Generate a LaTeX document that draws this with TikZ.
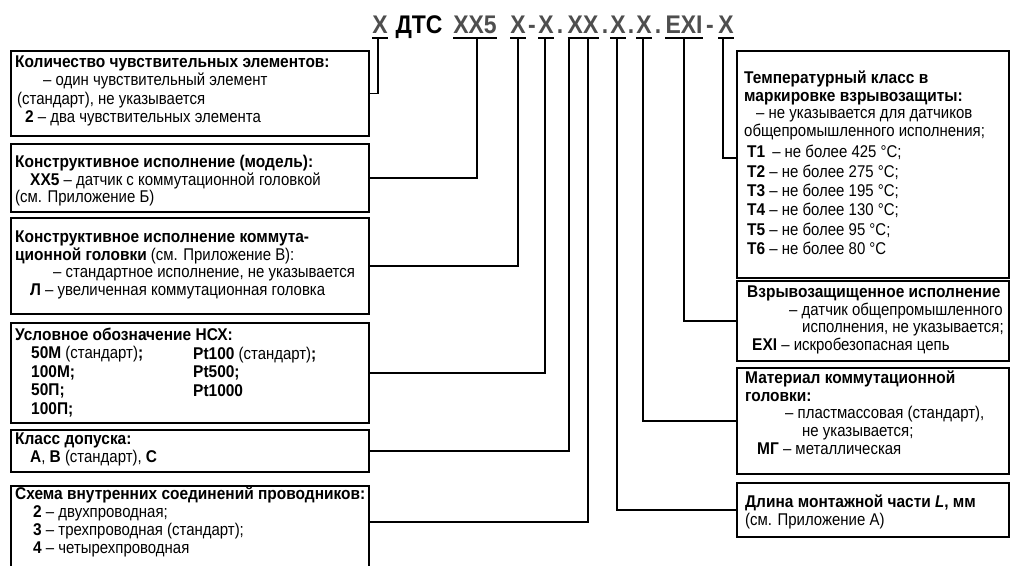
\documentclass[tikz,border=0pt]{standalone}
\usepackage{fontspec}
\setmainfont{Liberation Sans}[FakeStretch=0.88,BoldFeatures={FakeStretch=0.91}]
\newfontfamily\hdrfont{Liberation Sans}[FakeStretch=0.9]
\definecolor{codegray}{HTML}{4E4E4E}
\newcommand\mystrut{\rule{0pt}{13pt}}
\begin{document}
\begin{tikzpicture}[x=1pt,y=-1pt,
  box/.style={draw, line width=1.9pt, rectangle, inner sep=0pt, anchor=north west},
  txt/.style={anchor=north west, inner sep=0pt, align=left, font=\fontsize{17}{17.8}\selectfont},
  code/.style={anchor=base, inner sep=0pt, font=\hdrfont\fontsize{25.5}{25.5}\selectfont\bfseries, text=codegray},
  conn/.style={line width=1.9pt},
  uline/.style={line width=1.9pt}]
\useasboundingbox (0,0) rectangle (1011,565);
% ---- header code ----
\node[code] (c1) at (380,33) {X};
\node[code, text=black] (cD) at (419,33) {ДТС};
\node[code] (c2) at (475,33) {XX5};
\node[code] (c3) at (518,33) {X};
\node[code] (s1) at (532,33) {-};
\node[code] (c4) at (546,33) {X};
\node[code] (s2) at (560,33) {.};
\node[code] (c5) at (583,33) {XX};
\node[code] (s3) at (605,33) {.};
\node[code] (c6) at (618,33) {X};
\node[code] (s4) at (631,33) {.};
\node[code] (c7) at (644,33) {X};
\node[code] (s5) at (658,33) {.};
\node[code] (c8) at (684,33) {EXI};
\node[code] (s6) at (710,33) {-};
\node[code] (c9) at (726,33) {X};
\foreach \n in {c1,c2,c3,c4,c5,c6,c7,c8,c9}
  \draw[uline] (\n.base west |- 0,38) -- (\n.base east |- 0,38);
\coordinate (u1) at (378,38);
\coordinate (u2) at (477,38);
\coordinate (u3) at (518,38);
\coordinate (u4) at (545,38);
\coordinate (u5) at (569,38);
\coordinate (u6) at (588,38);
\coordinate (u7) at (617,38);
\coordinate (u8) at (643,38);
\coordinate (u9) at (684,38);
\coordinate (u10) at (723,38);
% ---- left boxes ----
\node[box, minimum width=358pt, minimum height=85pt] (b1) at (10,50) {};
\node[box, minimum width=358pt, minimum height=68pt] (b2) at (10,143) {};
\node[box, minimum width=358pt, minimum height=96pt] (b3) at (10,217) {};
\node[box, minimum width=358pt, minimum height=100pt] (b4) at (10,322) {};
\node[box, minimum width=358pt, minimum height=42pt] (b5) at (10,429) {};
\node[box, minimum width=358pt, minimum height=100pt] (b6) at (10,485) {};
% ---- right boxes ----
\node[box, minimum width=272pt, minimum height=227pt] (bT) at (736,50) {};
\node[box, minimum width=272pt, minimum height=80pt] (bE) at (736,280) {};
\node[box, minimum width=272pt, minimum height=106pt] (bM) at (736,367) {};
\node[box, minimum width=272pt, minimum height=54pt] (bL) at (736,482) {};
% ---- left texts ----
\node[txt, font=\fontsize{17}{18.5}\selectfont] (t1) at (15,54) {\mystrut\textbf{Количество чувствительных элементов:}\\
  \hspace*{28pt}– один чувствительный элемент\\
  \hspace*{2pt}(стандарт), не указывается\\
  \hspace*{10pt}\textbf{2} – два чувствительных элемента};
\node[txt] (t2) at (15,154) {\mystrut\textbf{Конструктивное исполнение (модель):}\\
  \hspace*{15pt}\textbf{XX5} – датчик с коммутационной головкой\\
  (см. Приложение Б)};
\node[txt] (t3) at (15,229) {\mystrut\textbf{Конструктивное исполнение коммута-}\\
  \textbf{ционной головки} (см. Приложение В):\\
  \hspace*{38pt}– стандартное исполнение, не указывается\\
  \hspace*{15pt}\textbf{Л} – увеличенная коммутационная головка};
\node[txt, font=\fontsize{17}{18.5}\selectfont] (t4) at (15,327) {\mystrut\textbf{Условное обозначение НСХ:}\\
  \hspace*{16pt}\textbf{50М} (стандарт)\textbf{;}\\
  \hspace*{16pt}\textbf{100М;}\\
  \hspace*{16pt}\textbf{50П;}\\
  \hspace*{16pt}\textbf{100П;}};
\node[txt, font=\fontsize{17}{18.5}\selectfont] (t4b) at (193,346) {\mystrut\textbf{Pt100} (стандарт)\textbf{;}\\
  \textbf{Pt500;}\\
  \textbf{Pt1000}};
\node[txt] (t5) at (15,431) {\mystrut\textbf{Класс допуска:}\\
  \hspace*{15pt}\textbf{А}, \textbf{В} (стандарт), \textbf{С}};
\node[txt, font=\fontsize{17}{18}\selectfont] (t6) at (15,486) {\mystrut\textbf{Схема внутренних соединений проводников:}\\
  \hspace*{18pt}\textbf{2} – двухпроводная;\\
  \hspace*{18pt}\textbf{3} – трехпроводная (стандарт);\\
  \hspace*{18pt}\textbf{4} – четырехпроводная};
% ---- right texts ----
\node[txt] (tT) at (744,70) {\mystrut\textbf{Температурный класс в}\\
  \textbf{маркировке взрывозащиты:}\\
  \hspace*{12pt}– не указывается для датчиков\\
  общепромышленного исполнения;\\[3.5pt]
  \hspace*{3pt}\textbf{T1} \,– не более 425 °C;\\[1.5pt]
  \hspace*{3pt}\textbf{T2} – не более 275 °C;\\[1.5pt]
  \hspace*{3pt}\textbf{T3} – не более 195 °C;\\[1.5pt]
  \hspace*{3pt}\textbf{T4} – не более 130 °C;\\[1.5pt]
  \hspace*{3pt}\textbf{T5} – не более 95 °C;\\[1.5pt]
  \hspace*{3pt}\textbf{T6} – не более 80 °C};
\node[txt] (tE) at (747,284) {\mystrut\textbf{Взрывозащищенное исполнение}\\
  \hspace*{42pt}– датчик общепромышленного\\
  \hspace*{55pt}исполнения, не указывается;\\
  \hspace*{5pt}\textbf{EXI} – искробезопасная цепь};
\node[txt] (tM) at (745,370) {\mystrut\textbf{Материал коммутационной}\\
  \textbf{головки:}\\
  \hspace*{40pt}– пластмассовая (стандарт),\\
  \hspace*{57pt}не указывается;\\
  \hspace*{12pt}\textbf{МГ} – металлическая};
\node[txt] (tL) at (745,494) {\mystrut\textbf{Длина монтажной части \textit{L}, мм}\\
  (см. Приложение А)};
% ---- connectors ----
\draw[conn] (u1) |- (b1.east);
\draw[conn] (u2) |- (b2.east);
\draw[conn] (u3) |- (b3.east);
\draw[conn] (u4) |- (b4.east);
\draw[conn] (u5) |- (b5.east);
\draw[conn] (u6) |- (b6.east |- 0,522);
\draw[conn] (u7) |- (bL.west);
\draw[conn] (u8) |- (bM.west);
\draw[conn] (u9) |- (bE.west);
\draw[conn] (u10) |- (bT.west |- 0,158);
\end{tikzpicture}
\end{document}
